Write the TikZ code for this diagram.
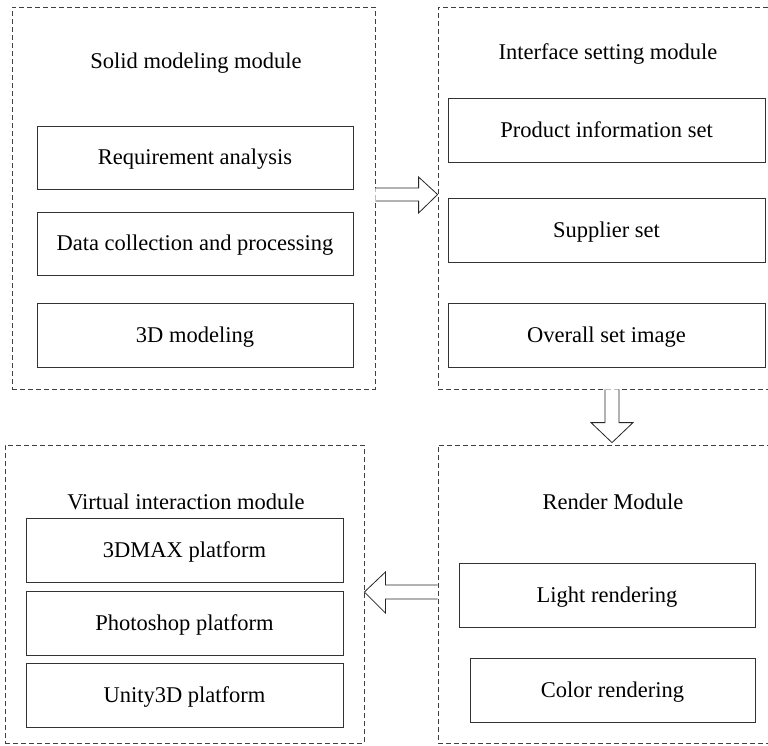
\documentclass[tikz,border=0pt]{standalone}
\usepackage{fontspec}
\setmainfont{Liberation Serif}
\usetikzlibrary{calc}
\begin{document}
\begin{tikzpicture}[x=1pt,y=-1pt,
  module/.style={draw=black!75, dashed, dash pattern=on 5pt off 3pt, line width=0.8pt, inner sep=0pt},
  item/.style={draw=black!80, line width=0.9pt, inner sep=0pt, minimum height=63pt, text height=17pt, text depth=3pt, font=\fontsize{22.5}{25}\selectfont},
  title/.style={inner sep=0pt, font=\fontsize{22.5}{25}\selectfont},
  blockarrow/.style={draw=black!85, line width=0.8pt, fill=white, line join=miter}]
\clip (0,0) rectangle (768,745);
\fill[white] (0,0) rectangle (768,745);
% module frames
\node[module, minimum width=363pt, minimum height=382pt] (tl) at (193.5,198) {};
\node[module, minimum width=342pt, minimum height=382pt] (tr) at (609,198) {};
\node[module, minimum width=359pt, minimum height=298pt] (bl) at (184.5,594) {};
\node[module, minimum width=342pt, minimum height=298pt] (br) at (609,594) {};
% titles
\node[title] (tlt) at (196,63.5) {Solid modeling module};
\node[title] (trt) at (608,54.5) {Interface setting module};
\node[title] (blt) at (186,501.5) {Virtual interaction module};
\node[title] (brt) at (613,501.5) {Render Module};
% items
\node[item, minimum width=316pt] (a1) at (195,157.5) {Requirement analysis};
\node[item, minimum width=316pt] (a2) at (195,243.5) {Data collection and processing};
\node[item, minimum width=316pt, minimum height=64pt] (a3) at (195,335) {3D modeling};
\node[item, minimum width=317pt, minimum height=64pt] (b1) at (606.5,130) {Product information set};
\node[item, minimum width=317pt, minimum height=64pt] (b2) at (606.5,230) {Supplier set};
\node[item, minimum width=317pt, minimum height=64pt] (b3) at (606.5,335) {Overall set image};
\node[item, minimum width=296pt, minimum height=64pt] (c1) at (607,595) {Light rendering};
\node[item, minimum width=285pt, minimum height=64pt] (c2) at (612.5,690) {Color rendering};
\node[item, minimum width=317pt, minimum height=64pt] (d1) at (184.5,550) {3DMAX platform};
\node[item, minimum width=317pt, minimum height=64pt] (d2) at (184.5,623) {Photoshop platform};
\node[item, minimum width=317pt, minimum height=64pt] (d3) at (184.5,695) {Unity3D platform};
% block arrows
% right arrow: tl -> tr
\coordinate (r0) at ($(tl.east)+(0,-3.5)$);
\coordinate (r1) at ($(tr.west)+(0,-3.5)$);
\draw[blockarrow] ($(r0)+(0,-6.5)$) -- ($(r1)+(-19,-6.5)$) -- ($(r1)+(-19,-17.5)$) -- (r1)
  -- ($(r1)+(-19,18.5)$) -- ($(r1)+(-19,6.5)$) -- ($(r0)+(0,6.5)$);
% down arrow: tr -> br
\coordinate (d0) at ($(tr.south)+(3,0)$);
\coordinate (dd) at ($(br.north)+(3,-2)$);
\draw[blockarrow] ($(d0)+(-7,0)$) -- ($(dd)+(-7,-20)$) -- ($(dd)+(-21,-20)$) -- (dd)
  -- ($(dd)+(21,-20)$) -- ($(dd)+(7,-20)$) -- ($(d0)+(7,0)$);
% left arrow: br -> bl
\coordinate (l0) at ($(br.west)+(0,-2)$);
\coordinate (l1) at ($(bl.east)+(0,-2)$);
\draw[blockarrow] ($(l0)+(0,-7)$) -- ($(l1)+(21,-7)$) -- ($(l1)+(21,-20)$) -- (l1)
  -- ($(l1)+(21,21)$) -- ($(l1)+(21,7)$) -- ($(l0)+(0,7)$);
\end{tikzpicture}
\end{document}
